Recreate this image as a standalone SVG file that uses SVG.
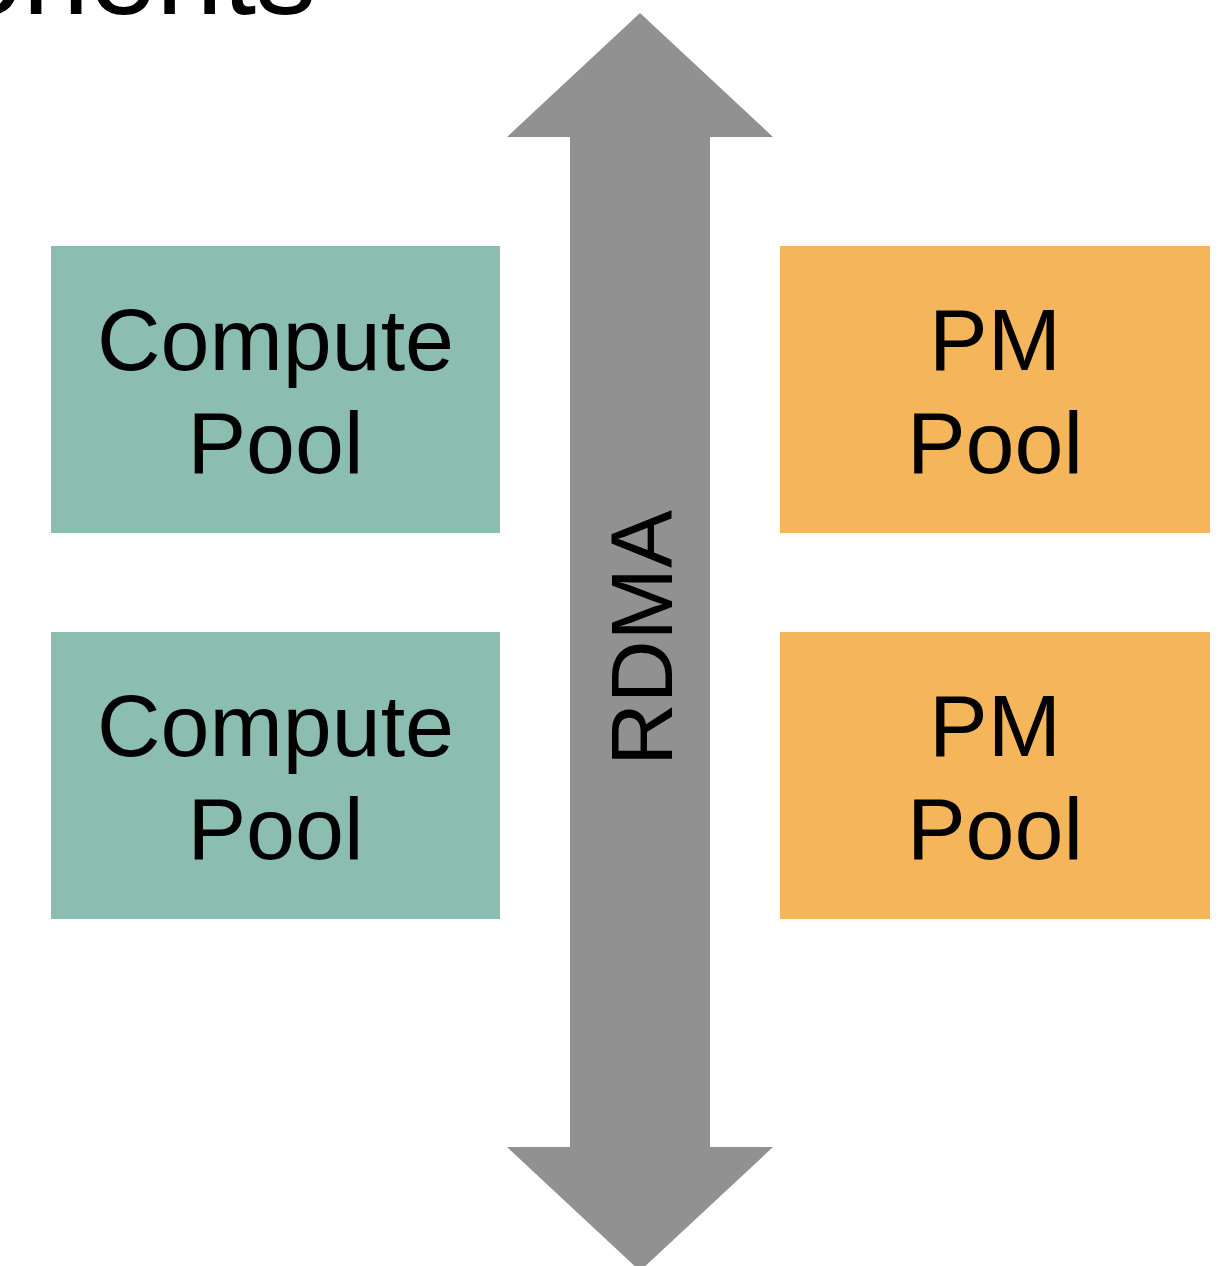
<svg xmlns="http://www.w3.org/2000/svg" width="1230" height="1266" viewBox="0 0 1230 1266">
<style>
text{font-family:"Liberation Sans",Arial,Helvetica,sans-serif;fill:#000}
.lbl{font-size:88px;text-anchor:middle}
.compute{fill:#8bbdb1}
.pm{fill:#f4b55b}
</style>
<rect width="1230" height="1266" fill="#fff"/>
<text x="316" y="14" font-size="120" text-anchor="end">onents</text>
<g id="connectors">
<polygon id="rdma-arrow" points="640,13 773,137 710,137 710,1147 773,1147 640,1271 507,1147 570,1147 570,137 507,137" fill="#919191"/>
<text x="672" y="638" font-size="87" text-anchor="middle" transform="rotate(-90 672 638)">RDMA</text>
</g>
<g id="compute1">
<rect class="compute" x="51" y="246" width="449" height="287"/>
<text class="lbl" x="275.5" y="370">Compute</text>
<text class="lbl" x="275.5" y="473">Pool</text>
</g>
<g id="compute2">
<rect class="compute" x="51" y="632" width="449" height="287"/>
<text class="lbl" x="275.5" y="756">Compute</text>
<text class="lbl" x="275.5" y="859">Pool</text>
</g>
<g id="pm1">
<rect class="pm" x="780" y="246" width="430" height="287"/>
<text class="lbl" x="995" y="370">PM</text>
<text class="lbl" x="995" y="473">Pool</text>
</g>
<g id="pm2">
<rect class="pm" x="780" y="632" width="430" height="287"/>
<text class="lbl" x="995" y="756">PM</text>
<text class="lbl" x="995" y="859">Pool</text>
</g>
</svg>
